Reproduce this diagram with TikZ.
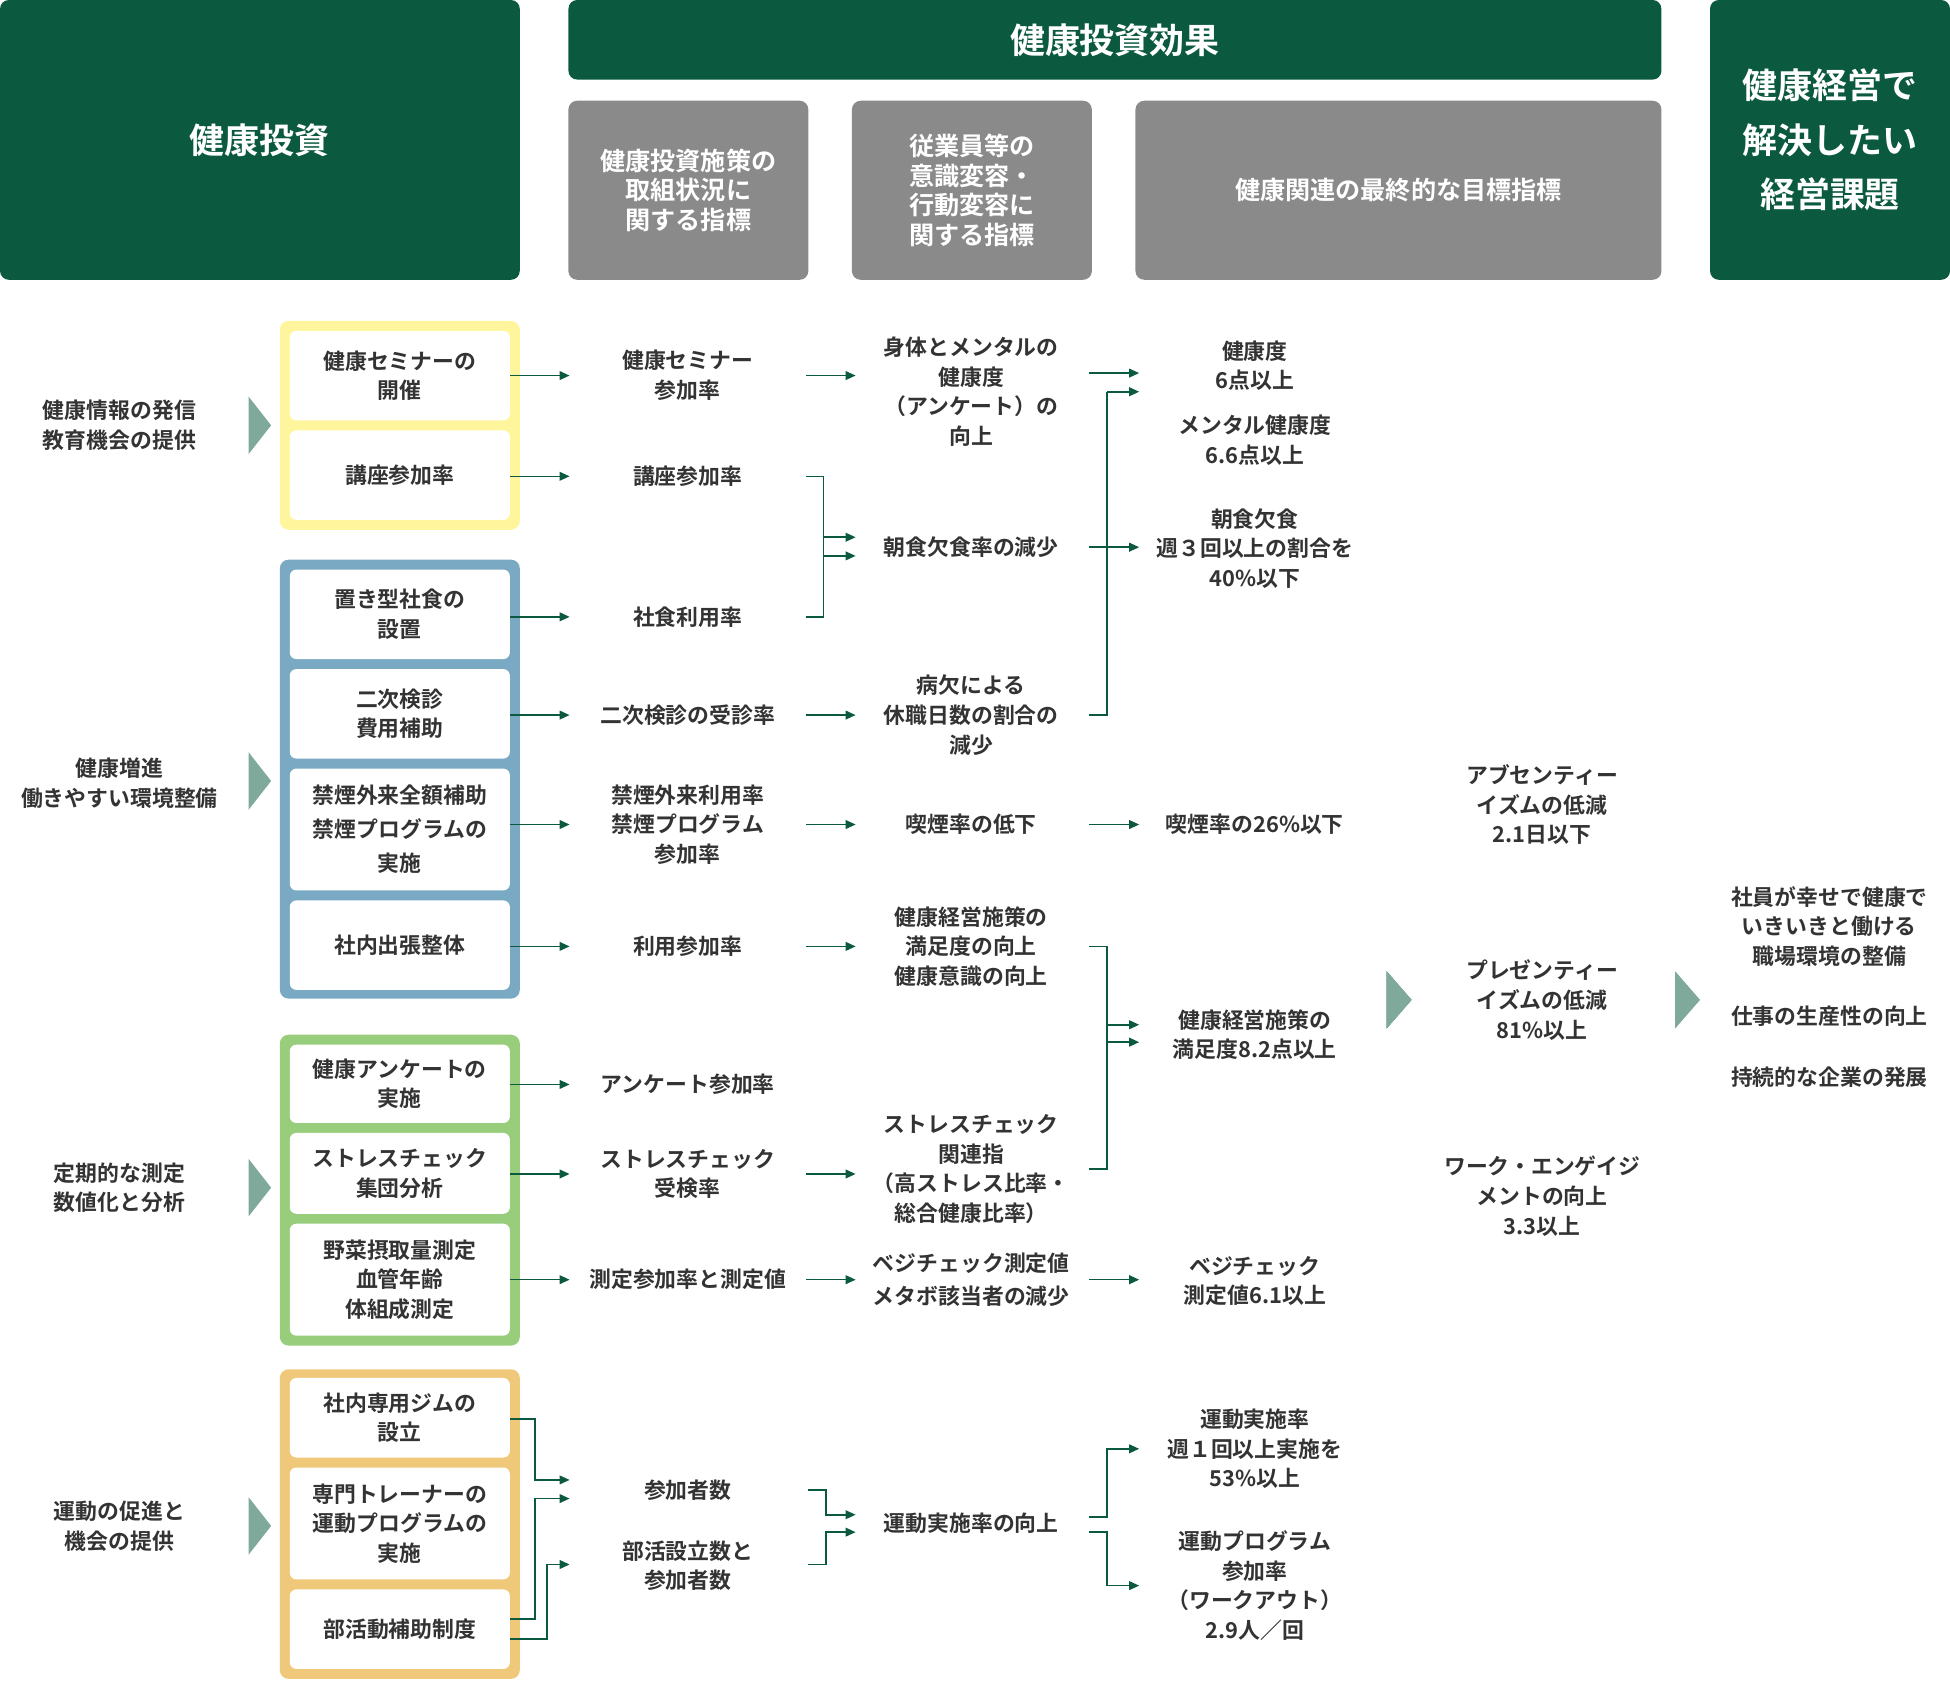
\documentclass[tikz,border=0pt]{standalone}
\usepackage{fontspec}
\setmainfont{Noto Sans CJK JP}[BoldFont={* Bold}]
\usetikzlibrary{arrows.meta}
\definecolor{kgreen}{HTML}{0B5A3F}
\definecolor{kgray}{HTML}{8A8A8A}
\definecolor{ktext}{HTML}{333333}
\definecolor{ktri}{HTML}{7FA99A}
\definecolor{kyellow}{HTML}{FFF59D}
\definecolor{kblue}{HTML}{79A9C3}
\definecolor{klgreen}{HTML}{98CD7B}
\definecolor{korange}{HTML}{F0C87A}
\tikzset{
  head/.style={fill=kgreen, text=white, rounded corners=4pt, align=center,
    font=\bfseries\fontsize{16}{25}\selectfont, inner sep=0pt},
  subhead/.style={fill=kgray, text=white, rounded corners=4pt, align=center,
    font=\bfseries\fontsize{11.5}{13.5}\selectfont, inner sep=0pt,
    minimum width=3.86cm, minimum height=2.88cm},
  txt/.style={text=ktext, align=center, font=\bfseries\fontsize{10}{13.6}\selectfont, inner sep=1pt},
  group/.style={rounded corners=4pt, inner sep=0pt, minimum width=3.86cm},
  wbox/.style={fill=white, rounded corners=3pt, inner sep=0pt, minimum width=3.54cm,
    text=ktext, align=center, font=\bfseries\fontsize{10}{13.6}\selectfont},
  link/.style={kgreen, line width=0.7pt, -{Triangle[length=1.6mm,width=1.4mm]}},
  plain/.style={kgreen, line width=0.7pt},
}
\newcommand*\tri[1]{\fill[ktri] (200,#1-23) -- (218,#1) -- (200,#1+23) -- cycle;}
\begin{document}
\begin{tikzpicture}[x=0.02cm, y=-0.02cm]
\useasboundingbox (0,0) rectangle (1568,1351);
% headers
\node[head, minimum width=8.36cm, minimum height=4.5cm] (hinv) at (209,112.5) {健康投資};
\node[head, minimum width=17.58cm, minimum height=1.28cm] (heff) at (896.5,32) {健康投資効果};
\node[head, minimum width=3.86cm, minimum height=4.5cm] (hgoal) at (1471.5,112.5) {健康経営で\\解決したい\\経営課題};
\node[subhead] (s1) at (553.5,153) {健康投資施策の\\取組状況に\\関する指標};
\node[subhead] (s2) at (781.5,153) {従業員等の\\意識変容・\\行動変容に\\関する指標};
\node[subhead, minimum width=8.46cm] (s3) at (1124.5,153) {健康関連の最終的な目標指標};
% column edges
\coordinate (xb) at (410,0);
\coordinate (xc) at (458,0);
\coordinate (xd) at (688,0);
\coordinate (xe) at (916,0);
% left labels
\node[txt] (l1) at (96,342) {健康情報の発信\\教育機会の提供};
\node[txt] (l2) at (96,630) {健康増進\\働きやすい環境整備};
\node[txt] (l3) at (96,955) {定期的な測定\\数値化と分析};
\node[txt] (l4) at (96,1227) {運動の促進と\\機会の提供};
\foreach \y in {342,628,955,1227} \tri{\y}
\fill[ktri] (1115,781) -- (1135,804) -- (1115,827) -- cycle;
\fill[ktri] (1347,781) -- (1367,804) -- (1347,827) -- cycle;
% groups
\node[group, fill=kyellow, minimum height=3.36cm] (gy) at (321.5,342) {};
\node[group, fill=kblue, minimum height=7.06cm] (gb) at (321.5,626.5) {};
\node[group, fill=klgreen, minimum height=5cm] (gg) at (321.5,957) {};
\node[group, fill=korange, minimum height=4.98cm] (go) at (321.5,1225.5) {};
\node[wbox, minimum height=1.44cm] (b1) at (321.5,302) {健康セミナーの\\開催};
\node[wbox, minimum height=1.44cm] (b2) at (321.5,382) {講座参加率};
\node[wbox, minimum height=1.44cm] (b3) at (321.5,494) {置き型社食の\\設置};
\node[wbox, minimum height=1.44cm] (b4) at (321.5,574) {二次検診\\費用補助};
\node[wbox, minimum height=1.96cm, font=\bfseries\fontsize{10}{15.5}\selectfont] (b5) at (321.5,667) {禁煙外来全額補助\\禁煙プログラムの\\実施};
\node[wbox, minimum height=1.44cm] (b6) at (321.5,760) {社内出張整体};
\node[wbox, minimum height=1.26cm] (b7) at (321.5,871.5) {健康アンケートの\\実施};
\node[wbox, minimum height=1.3cm] (b8) at (321.5,943.5) {ストレスチェック\\集団分析};
\node[wbox, minimum height=1.8cm] (b9) at (321.5,1029) {野菜摂取量測定\\血管年齢\\体組成測定};
\node[wbox, minimum height=1.28cm] (b10) at (321.5,1140) {社内専用ジムの\\設立};
\node[wbox, minimum height=1.8cm] (b11) at (321.5,1225) {専門トレーナーの\\運動プログラムの\\実施};
\node[wbox, minimum height=1.28cm] (b12) at (321.5,1310) {部活動補助制度};
% second column
\node[txt] (c1) at (553,302) {健康セミナー\\参加率};
\node[txt] (c2) at (553,383) {講座参加率};
\node[txt] (c3) at (553,496) {社食利用率};
\node[txt] (c4) at (553,575) {二次検診の受診率};
\node[txt] (c5) at (553,663) {禁煙外来利用率\\禁煙プログラム\\参加率};
\node[txt] (c6) at (553,761) {利用参加率};
\node[txt] (c7) at (553,872) {アンケート参加率};
\node[txt] (c8) at (553,944) {ストレスチェック\\受検率};
\node[txt] (c9) at (553,1029) {測定参加率と測定値};
\node[txt] (c10) at (553,1198) {参加者数};
\node[txt] (c11) at (553,1259) {部活設立数と\\参加者数};
% third column
\node[txt] (d1) at (781,315) {身体とメンタルの\\健康度\\（アンケート）の\\向上};
\node[txt] (d2) at (781,440) {朝食欠食率の減少};
\node[txt] (d3) at (781,575) {病欠による\\休職日数の割合の\\減少};
\node[txt] (d4) at (781,663) {喫煙率の低下};
\node[txt] (d5) at (781,761) {健康経営施策の\\満足度の向上\\健康意識の向上};
\node[txt] (d6) at (781,940) {ストレスチェック\\関連指\\（高ストレス比率・\\総合健康比率）};
\node[txt, font=\bfseries\fontsize{10}{15.5}\selectfont] (d7) at (781,1029) {ベジチェック測定値\\メタボ該当者の減少};
\node[txt] (d8) at (781,1225) {運動実施率の向上};
% fourth column
\node[txt] (e1) at (1009,294) {健康度\\6点以上};
\node[txt] (e2) at (1009,354) {メンタル健康度\\6.6点以上};
\node[txt] (e3) at (1009,441) {朝食欠食\\週３回以上の割合を\\40\%以下};
\node[txt] (e4) at (1009,663) {喫煙率の26\%以下};
\node[txt] (e5) at (1009,832) {健康経営施策の\\満足度8.2点以上};
\node[txt] (e6) at (1009,1030) {ベジチェック\\測定値6.1以上};
\node[txt] (e7) at (1009,1165) {運動実施率\\週１回以上実施を\\53\%以上};
\node[txt] (e8) at (1009,1275) {運動プログラム\\参加率\\（ワークアウト）\\2.9人／回};
% fifth and sixth columns
\node[txt] (f1) at (1240,647) {アブセンティー\\イズムの低減\\2.1日以下};
\node[txt] (f2) at (1240,804) {プレゼンティー\\イズムの低減\\81\%以上};
\node[txt] (f3) at (1240,962) {ワーク・エンゲイジ\\メントの向上\\3.3以上};
\node[txt] (g1) at (1471,745) {社員が幸せで健康で\\いきいきと働ける\\職場環境の整備};
\node[txt] (g2) at (1471,817) {仕事の生産性の向上};
\node[txt] (g3) at (1471,866) {持続的な企業の発展};
% straight connectors
\foreach \b/\y in {b1/302,b2/383,b3/496,b4/575,b5/663,b6/761,b7/872,b8/944,b9/1029}
  \draw[link] (xb |- 0,\y) -- (xc |- 0,\y);
\foreach \y in {302,575,663,761,944,1029}
  \draw[link] (648,\y) -- (xd |- 0,\y);
\foreach \y in {300,440,663,1029}
  \draw[link] (876,\y) -- (xe |- 0,\y);
% brackets
\draw[plain] (648,383) -- (662,383) -- (662,496) -- (648,496);
\draw[link] (662,432) -- (xd |- 0,432);
\draw[link] (662,447) -- (xd |- 0,447);
\draw[plain] (876,575) -- (890,575) -- (890,315);
\draw[link] (890,315) -- (xe |- 0,315);
\draw[plain] (876,761) -- (890,761) -- (890,940) -- (876,940);
\draw[link] (890,824) -- (xe |- 0,824);
\draw[link] (890,838) -- (xe |- 0,838);
\draw[link] (410,1141) -- (430,1141) -- (430,1190) -- (xc |- 0,1190);
\draw[link] (410,1302) -- (430,1302) -- (430,1205) -- (xc |- 0,1205);
\draw[link] (410,1318) -- (440,1318) -- (440,1258) -- (xc |- 0,1258);
\draw[link] (650,1198) -- (664,1198) -- (664,1218) -- (xd |- 0,1218);
\draw[link] (650,1258) -- (664,1258) -- (664,1232) -- (xd |- 0,1232);
\draw[link] (876,1220) -- (890,1220) -- (890,1165) -- (xe |- 0,1165);
\draw[link] (876,1232) -- (890,1232) -- (890,1275) -- (xe |- 0,1275);
\end{tikzpicture}
\end{document}
